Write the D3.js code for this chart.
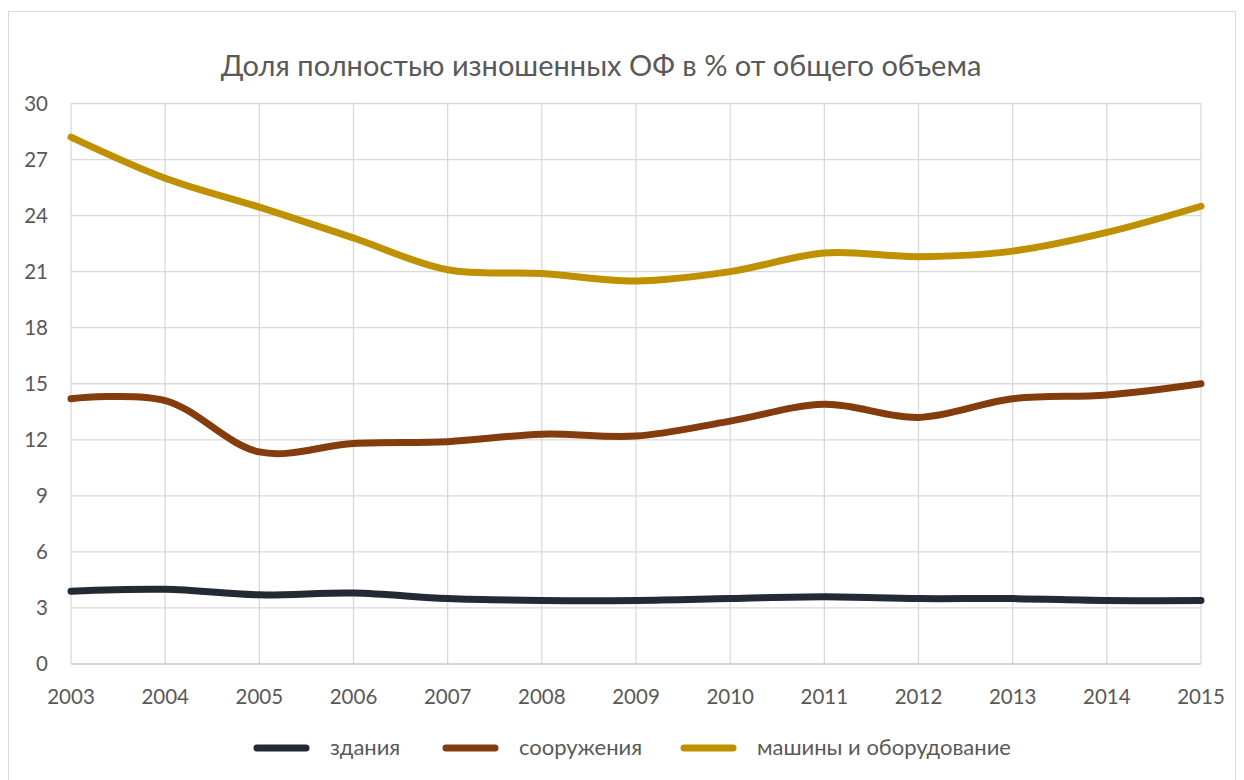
<!DOCTYPE html>
<html>
<head>
<meta charset="utf-8">
<script src="https://cdn.jsdelivr.net/npm/d3@7"></script>
<style>
  body { margin: 0; background: #fff; }
  text { font-family: Lato, "Open Sans", sans-serif; fill: #595959; }
</style>
</head>
<body>
<div id="chart"></div>
<script>
const w = 1244;
const h = 780;

// data
const years = [2003, 2004, 2005, 2006, 2007, 2008, 2009, 2010, 2011, 2012, 2013, 2014, 2015];
const buildings = [3.9, 4.0, 3.7, 3.8, 3.5, 3.4, 3.4, 3.5, 3.6, 3.5, 3.5, 3.4, 3.4];
const structures = [14.2, 14.1, 11.35, 11.8, 11.9, 12.3, 12.2, 13.0, 13.9, 13.2, 14.2, 14.4, 15.0];
const machines = [28.2, 26.0, 24.45, 22.8, 21.1, 20.9, 20.5, 21.0, 22.0, 21.8, 22.1, 23.1, 24.5];
const seriesNames = ["здания", "сооружения", "машины и оборудование"];
const yTicks = [0, 3, 6, 9, 12, 15, 18, 21, 24, 27, 30];
const title = "Доля полностью изношенных ОФ в % от общего объема";

const colors = ["#222a35", "#843c0c", "#bf9000"];
const series = [buildings, structures, machines];

const xLeft = 71, xRight = 1201, yTop = 103.5, yBottom = 664;

const svg = d3.select("#chart")
  .append('svg')
  .attr('width', w)
  .attr('height', h);

// outer frame
svg.append('rect')
  .attr('x', 8.5).attr('y', 11.5)
  .attr('width', 1227).attr('height', 790)
  .attr('fill', 'none').attr('stroke', '#d9d9d9').attr('stroke-width', 1);

const xScale = d3.scaleLinear().domain([2003, 2015]).range([xLeft, xRight]);
const yScale = d3.scaleLinear().domain([0, 30]).range([yBottom, yTop]);

// grid
svg.append('g')
  .selectAll('line')
  .data(yTicks.filter(d => d > 0))
  .enter().append('line')
  .attr('x1', xLeft).attr('x2', xRight)
  .attr('y1', d => yScale(d)).attr('y2', d => yScale(d))
  .attr('stroke', '#d9d9d9').attr('stroke-width', 1.3);

svg.append('g')
  .selectAll('line')
  .data(years)
  .enter().append('line')
  .attr('x1', d => xScale(d)).attr('x2', d => xScale(d))
  .attr('y1', yTop).attr('y2', yBottom)
  .attr('stroke', '#d9d9d9').attr('stroke-width', 1.3);

// x axis line
svg.append('line')
  .attr('x1', xLeft).attr('x2', xRight)
  .attr('y1', yBottom).attr('y2', yBottom)
  .attr('stroke', '#c9c9c9').attr('stroke-width', 1.3);

// y labels
svg.append('g')
  .selectAll('text')
  .data(yTicks)
  .enter().append('text')
  .attr('x', 48).attr('y', d => yScale(d) + 7)
  .attr('text-anchor', 'end')
  .style('font-size', '20.5px')
  .text(d => d);

// x labels
svg.append('g')
  .selectAll('text')
  .data(years)
  .enter().append('text')
  .attr('x', d => xScale(d)).attr('y', 704)
  .attr('text-anchor', 'middle')
  .style('font-size', '20.5px')
  .text(d => d);

// title
svg.append('text')
  .attr('x', 601).attr('y', 76)
  .attr('text-anchor', 'middle')
  .style('font-size', '29px')
  .text(title);

// lines
const line = d3.line()
  .x((d, i) => xScale(years[i]))
  .y(d => yScale(d))
  .curve(d3.curveCatmullRom.alpha(0.5));

svg.append('g')
  .selectAll('path')
  .data(series)
  .enter().append('path')
  .attr('d', d => line(d))
  .attr('fill', 'none')
  .attr('stroke', (d, i) => colors[i])
  .attr('stroke-width', 7)
  .attr('stroke-linecap', 'round');

// legend
const legX = [257, 446, 684];
const legend = svg.append('g').attr('id', 'legend');
seriesNames.forEach((name, i) => {
  legend.append('line')
    .attr('x1', legX[i]).attr('x2', legX[i] + 49)
    .attr('y1', 748).attr('y2', 748)
    .attr('stroke', colors[i]).attr('stroke-width', 7)
    .attr('stroke-linecap', 'round');
  legend.append('text')
    .attr('x', legX[i] + 73).attr('y', 755)
    .style('font-size', '22px')
    .text(name);
});
</script>
</body>
</html>
